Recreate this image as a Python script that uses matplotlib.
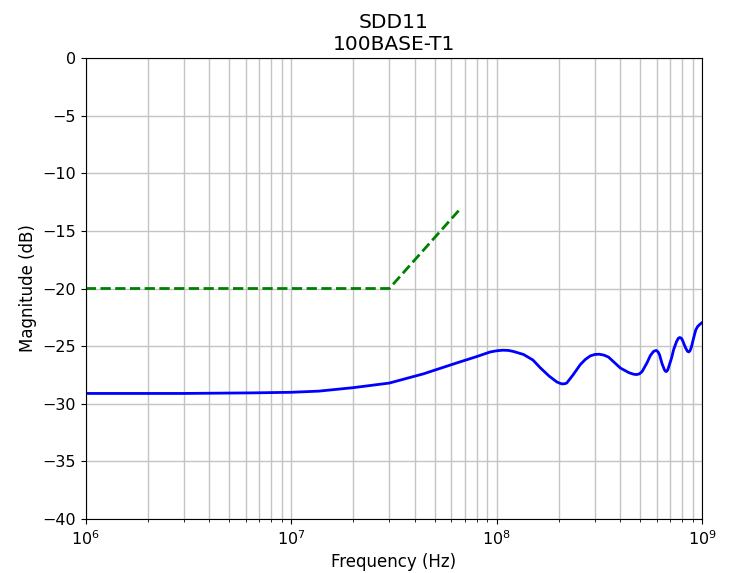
import matplotlib

matplotlib.use("Agg")
import matplotlib.pyplot as plt
import numpy as np

freq_mhz = np.array([
    1, 3, 6.5, 10, 13.6, 20, 30, 44, 64, 80, 93, 100, 107, 114, 120, 135,
    150, 163, 180, 196, 203, 208, 214, 219, 235, 255, 270, 285, 300, 316,
    333, 350, 400, 440, 465, 480, 495, 510, 538, 560, 580, 597, 610, 620,
    637, 655, 663, 670, 680, 690, 710, 726, 750, 765, 777, 790, 800, 830,
    848, 860, 872, 885, 908, 930, 950, 975, 1000,
])
sdd11_db = np.array([
    -29.1, -29.1, -29.05, -29.0, -28.9, -28.6, -28.2, -27.4, -26.45, -25.9,
    -25.5, -25.4, -25.35, -25.37, -25.45, -25.72, -26.2, -26.88, -27.6,
    -28.1, -28.22, -28.27, -28.26, -28.2, -27.5, -26.6, -26.15, -25.85,
    -25.72, -25.7, -25.78, -25.95, -26.9, -27.3, -27.44, -27.46, -27.4,
    -27.2, -26.46, -25.8, -25.45, -25.37, -25.5, -25.75, -26.5, -27.05,
    -27.18, -27.2, -27.05, -26.7, -26.0, -25.3, -24.6, -24.32, -24.25,
    -24.3, -24.45, -25.15, -25.45, -25.5, -25.4, -25.1, -24.3, -23.6,
    -23.3, -23.1, -22.95,
])

# 100BASE-T1 return loss limit
limit_mhz = np.array([1, 30, 66])
limit_db = np.array([-20.0, -20.0, -13.15])

fig = plt.figure(figsize=(7.33, 5.73), dpi=100)
ax = fig.add_axes([0.117, 0.094, 0.841, 0.805])
ax.plot(freq_mhz * 1e6, sdd11_db, color="blue", linewidth=2)
ax.plot(limit_mhz * 1e6, limit_db, color="green", linestyle="--", linewidth=2)
ax.set_xscale("log")
ax.set_xlim(1e6, 1e9)
ax.set_ylim(-40, 0)
ax.grid(True, which="both", color="#c4c4c4", linewidth=1)
ax.set_xlabel("Frequency (Hz)", fontsize=12)
ax.set_ylabel("Magnitude (dB)", fontsize=12)
ax.set_title("SDD11\n100BASE-T1", fontsize=14.5)
ax.tick_params(labelsize=11.5)
fig.savefig("out.png", dpi=100)
